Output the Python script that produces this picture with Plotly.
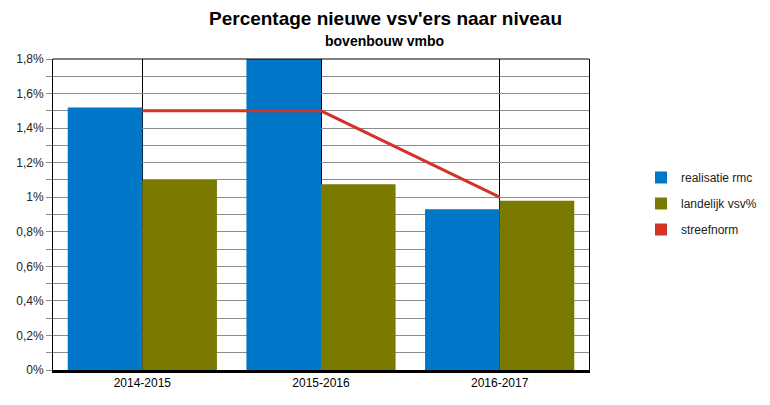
import plotly.graph_objects as go

categories = ["2014-2015", "2015-2016", "2016-2017"]
realisatie_rmc = [1.52, 1.85, 0.93]
landelijk_vsv = [1.10, 1.075, 0.98]
streefnorm = [1.5, 1.5, 1.0]
y_tickvals = [0, 0.2, 0.4, 0.6, 0.8, 1.0, 1.2, 1.4, 1.6, 1.8]
y_ticktext = ["0%", "0,2%", "0,4%", "0,6%", "0,8%", "1%", "1,2%", "1,4%", "1,6%", "1,8%"]

FONT = "Liberation Sans, Arial, sans-serif"
BLUE = "#0077C8"
OLIVE = "#7A7A00"
RED = "#D43328"

W, H = 770, 405
ML, MR, MT, MB = 53, 181, 59, 35

fig = go.Figure()
fig.add_trace(go.Bar(x=categories, y=realisatie_rmc, name="realisatie rmc", legendgroup="a",
                     marker=dict(color=BLUE, line=dict(width=0))))
fig.add_trace(go.Bar(x=categories, y=landelijk_vsv, name="landelijk vsv%", legendgroup="b",
                     marker=dict(color=OLIVE, line=dict(width=0))))
fig.add_trace(go.Scatter(x=categories, y=streefnorm, name="streefnorm", mode="lines",
                         line=dict(color=RED, width=3), showlegend=False, legendgroup="c"))
# legend entry shown as a square, like the reference
fig.add_trace(go.Scatter(x=[None], y=[None], name="streefnorm", mode="markers", legendgroup="c",
                         marker=dict(color=RED, symbol="square", size=10)))

fig.update_layout(
    width=W, height=H,
    margin=dict(l=ML, r=MR, t=MT, b=MB, autoexpand=False),
    paper_bgcolor="white", plot_bgcolor="white",
    font=dict(family=FONT, size=12, color="#000000"),
    barmode="group", bargap=0.165, bargroupgap=0,
    showlegend=True,
    legend=dict(xref="container", yref="container",
                x=641 / W, y=1 - 163 / H, xanchor="left", yanchor="top",
                font=dict(family=FONT, size=12, color="#222222"),
                itemsizing="constant", tracegroupgap=7, bgcolor="rgba(0,0,0,0)"),
    annotations=[
        dict(text="<b>Percentage nieuwe vsv'ers naar niveau</b>",
             xref="paper", yref="paper", showarrow=False,
             x=(385 - ML) / (W - ML - MR), y=(H - MB - 19) / (H - MT - MB),
             xanchor="center", yanchor="middle",
             font=dict(family=FONT, size=19, color="#000000")),
        dict(text="<b>bovenbouw vmbo</b>",
             xref="paper", yref="paper", showarrow=False,
             x=(384 - ML) / (W - ML - MR), y=(H - MB - 41) / (H - MT - MB),
             xanchor="center", yanchor="middle",
             font=dict(family=FONT, size=14, color="#000000")),
    ],
)

fig.update_xaxes(
    type="category", showline=True, linecolor="black", linewidth=3, mirror=False,
    showgrid=True, gridcolor="black", gridwidth=1, ticks="", zeroline=False,
    tickfont=dict(family=FONT, size=12, color="#000000"),
)
fig.update_yaxes(
    range=[0, 1.8], tickvals=y_tickvals, ticktext=y_ticktext,
    showline=True, linecolor="black", linewidth=1, mirror=True,
    showgrid=True, gridcolor="#8c8c8c", gridwidth=1,
    ticks="outside", ticklen=6, tickcolor="#8c8c8c",
    minor=dict(dtick=0.1, showgrid=True, gridcolor="#8c8c8c", gridwidth=1,
               ticks="outside", ticklen=6, tickcolor="#8c8c8c"),
    zeroline=False, tickfont=dict(family=FONT, size=12, color="#222222"),
)
fig.add_shape(type="line", xref="paper", yref="paper", x0=0, x1=1, y0=1, y1=1,
              line=dict(color="black", width=1))

fig.write_html("out.html")
